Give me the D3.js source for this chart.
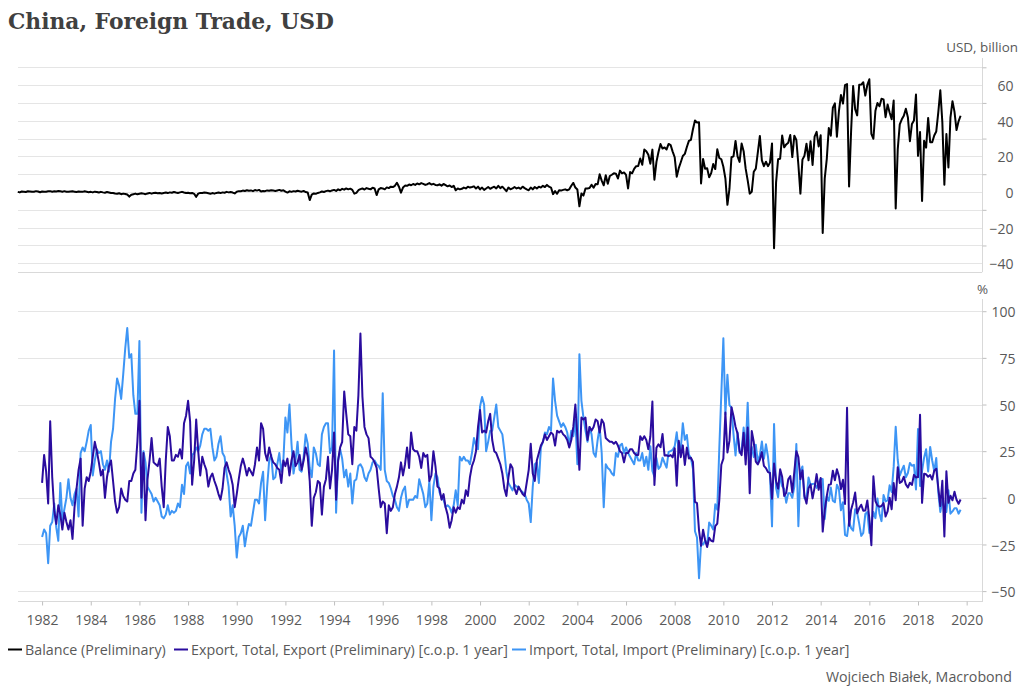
<!DOCTYPE html>
<html><head><meta charset="utf-8">
<script src="https://cdn.jsdelivr.net/npm/d3@7"></script>
<style>body{margin:0;background:#fff}svg{display:block}</style>
</head><body><svg id="c" width="1024" height="696"></svg>
<script>
// ---------------- data ----------------
const chartTitle = "China, Foreign Trade, USD";
const topUnit = "USD, billion";
const bottomUnit = "%";
const sourceText = "Wojciech Białek, Macrobond";
const seriesNames = ["Balance (Preliminary)", "Export, Total, Export (Preliminary) [c.o.p. 1 year]", "Import, Total, Import (Preliminary) [c.o.p. 1 year]"];
const seriesColors = ["#000000", "#2a0c9e", "#3d95f5"];

const balanceStartYear = 1981;   // monthly from Jan
const tradeStartYear = 1982;     // monthly from Jan

// Trade balance, USD billion, monthly Jan 1981 - Oct 2019
const balance = [
0.1,-0.2,0.3,0.2,0.0,0.4,0.3,0.1,0.2,0.5,0.3,-0.1,
0.3,0.1,0.2,0.4,0.5,0.2,0.4,0.3,0.6,0.4,0.2,0.5,
0.2,0.1,0.3,0.4,0.2,0.0,0.3,0.2,0.1,0.4,0.2,-0.1,
0.1,-0.2,0.2,0.0,-0.3,0.1,-0.2,-0.4,0.0,-0.3,-0.6,-0.5,
-0.8,-1.0,-0.7,-1.2,-0.9,-1.1,-1.4,-2.6,-1.5,-1.2,-0.9,-1.3,
-1.0,-0.7,-0.9,-1.2,-0.8,-0.5,-0.9,-0.6,-0.4,-0.7,-0.5,-0.8,
-0.5,-0.3,-0.6,-0.2,-0.4,0.0,-0.3,-0.5,-0.2,0.1,-0.3,-0.6,
-0.4,-0.7,-0.5,-1.0,-2.7,-0.9,-0.5,-0.6,-0.3,-0.4,-0.7,-1.0,
-0.6,-0.9,-0.5,-0.3,-0.6,-0.2,-0.4,0.1,-0.2,0.0,-0.3,-0.8,
0.2,0.5,0.4,0.8,0.6,1.0,0.7,0.9,0.5,1.1,0.8,1.2,
0.3,0.6,0.5,0.9,0.7,1.0,0.8,0.6,0.9,1.2,0.7,1.0,
0.2,-0.3,0.4,0.1,0.5,0.3,0.7,0.4,0.2,0.6,0.0,-0.3,
-4.5,-1.5,-0.8,-1.0,-0.5,-0.2,0.3,0.0,0.5,0.8,0.4,0.9,
1.2,0.6,1.5,1.0,1.8,1.3,2.0,1.5,1.9,1.2,-0.9,-0.5,
1.0,1.6,2.0,1.4,2.2,1.8,1.5,2.4,2.0,-1.7,1.5,2.2,
2.0,1.5,2.6,2.2,3.0,2.8,3.5,5.2,3.0,-0.4,2.5,3.6,
3.5,4.2,3.8,4.5,4.0,4.8,4.3,5.0,4.6,4.0,4.4,5.0,
4.2,4.6,4.0,3.8,4.3,3.6,4.5,3.9,3.2,3.7,2.8,3.5,
1.0,2.0,1.5,1.8,2.5,2.0,3.0,2.5,2.8,3.2,2.0,3.0,
1.5,2.5,1.2,2.0,2.8,1.8,2.5,3.0,2.0,3.5,2.2,3.0,
1.8,0.5,2.5,1.5,2.0,2.8,2.0,2.5,1.8,3.0,2.2,1.5,
1.0,2.5,1.5,2.8,2.0,3.0,2.5,3.5,2.8,4.0,3.0,2.5,
-1.2,0.5,-1.0,1.0,0.8,1.2,1.5,1.0,1.5,3.5,5.1,2.5,
1.4,-8.0,-0.8,-2.0,2.0,2.0,2.2,4.1,2.4,4.5,4.3,10.0,
6.4,3.8,9.4,4.6,9.0,9.7,10.5,10.3,7.6,12.0,10.5,11.0,
9.6,2.0,11.2,10.5,13.0,14.5,14.6,18.8,15.3,23.8,22.9,20.9,
15.9,23.8,6.9,16.9,22.5,26.9,24.4,25.0,23.9,27.0,26.3,22.7,
19.5,8.6,13.4,16.7,20.2,21.4,25.3,28.7,29.3,35.2,40.1,39.0,
39.1,4.8,18.6,13.1,13.4,8.3,10.6,15.7,12.9,24.0,19.1,18.4,
14.2,7.6,-7.2,1.7,19.5,20.0,28.7,20.0,16.9,27.2,22.9,13.1,
6.5,-0.9,0.1,11.4,13.1,22.3,31.5,17.8,14.5,17.0,14.5,16.5,
27.3,-31.5,5.4,18.4,18.7,31.7,25.1,26.7,27.7,32.0,19.6,31.6,
29.2,15.3,-0.9,18.2,20.4,27.1,17.8,28.5,15.2,31.1,33.8,25.6,
31.9,-23.0,7.7,18.5,35.9,31.6,47.3,49.8,31.0,45.4,54.5,49.6,
60.0,60.6,3.1,34.1,59.5,46.5,43.0,60.2,60.3,61.6,54.1,60.1,
63.3,32.6,29.9,45.6,50.0,48.1,52.3,52.0,42.0,49.1,44.6,40.8,
51.3,-9.2,23.9,38.0,40.8,42.8,46.7,42.0,28.5,38.2,40.2,54.7,
20.3,33.7,-5.0,28.8,24.9,41.6,28.0,27.9,31.7,34.0,44.7,57.1,
39.2,4.1,32.6,13.8,41.7,51.0,45.0,34.8,39.7,42.8
];

// Export, % change on 1 year, monthly Jan 1982 - Oct 2019
const exportGrowth = [
8,23,14,-3,41,11,-7,-14,-4,-9,-17,-8,
-13,-17,-12,-22,-5,5,15,21,-15,5,11,9,
14,22,30,25,19,12,15,0,11,17,20,9,
-2,-8,-5,5,1,-1,-2,9,9,13,15,30,
52,0,24,-12,10,20,32,19,18,17,21,6,
-5,20,38,33,20,20,23,22,26,21,40,44,
52,41,7,20,42,25,12,22,18,15,6,11,
13,9,6,2,-1,5,16,19,15,12,7,-5,
2,10,17,21,17,12,16,14,12,18,27,20,
40,37,24,20,27,22,19,18,16,15,8,20,
17,21,12,20,25,17,19,23,15,20,27,22,
9,-15,0,3,9,8,-9,6,10,22,5,15,
35,-1,20,27,30,57,45,34,33,18,38,36,
55,88,54,38,34,32,22,21,19,16,5,-5,
-2,-3,-19,-4,-7,-5,2,6,11,19,12,18,
27,16,35,26,25,25,22,16,24,22,23,9,
12,25,17,6,5,-1,2,-5,-9,-16,-12,-5,
-8,-5,-6,-1,-3,4,1,11,17,20,25,38,
47,35,36,35,41,45,31,25,24,21,18,13,
5,1,11,18,16,5,2,6,4,2,1,8,
15,29,13,9,20,24,28,30,34,31,33,35,
34,28,36,35,36,34,33,31,27,31,38,50,
33,15,43,42,43,31,38,36,38,42,41,35,
42,40,32,31,30,30,29,30,28,25,24,19,
24,24,26,26,24,23,23,33,31,33,31,26,
33,51.6,6.9,26.8,28.7,27.1,34.2,22.7,22.8,22.3,22.9,21.7,
26.6,6.5,30.6,21.8,28.1,17.6,26.9,21.1,21.5,19.2,-2.2,-2.8,
-17.5,-25.7,-17.1,-22.6,-26.4,-21.4,-23.0,-23.4,-15.2,-13.8,-1.2,17.7,
21.0,45.7,24.3,30.5,48.5,43.9,38.1,34.4,25.1,22.9,34.9,17.9,
37.7,2.4,35.8,29.9,19.4,17.9,20.4,24.5,17.1,15.9,13.8,13.4,
-0.5,18.4,8.9,4.9,15.3,11.3,1.0,2.7,9.9,11.6,2.9,14.1,
25.0,21.8,10.0,14.7,1.0,-3.1,5.1,7.2,-0.3,5.6,12.7,4.3,
10.6,-18.1,-6.6,0.9,7.0,7.2,14.5,9.4,15.3,11.6,4.7,9.7,
-3.3,48.3,-15.0,-6.4,-2.5,2.8,-8.3,-5.5,-3.7,-6.9,-6.8,-1.4,
-11.2,-25.4,11.5,-1.8,-4.1,-4.8,-4.4,-2.8,-10.0,-7.3,0.1,-6.1,
7.9,-1.3,16.4,8.0,8.7,11.3,7.2,5.5,8.1,6.9,12.3,10.9,
11.1,44.5,-2.7,12.9,12.6,11.3,12.2,9.8,14.5,15.6,5.4,-4.4,
9.1,-20.7,14.2,-2.7,1.1,-1.3,3.3,-1.0,-3.2,-0.9
];

// Import, % change on 1 year, monthly Jan 1982 - Oct 2019
const importGrowth = [
-21,-17,-19,-35,-15,-13,-3,-16,-23,8,-12,-6,
0,10,0,-4,2,5,-10,24,27,25,30,36,
39,12,20,26,24,25,18,15,20,14,30,37,
53,64,60,53,66,80,91,75,77,55,45,45,
84,-8,25,19,6,4,2,-2,0,-2,-4,-10,
-11,-9,-4,-9,-7,-8,-7,-3,-5,7,2,17,
19,13,23,24,27,25,28,34,37,37,36,37,
27,20,22,29,33,24,22,13,6,-10,-4,-15,
-32,-21,-19,-15,-26,-19,-14,-15,-8,-1,-1,-3,
8,14,-12,6,20,23,10,11,18,24,14,20,
43,35,50,29,13,20,30,15,14,22,34,29,
16,11,27,24,18,17,34,38,40,40,24,27,
79,-8,20,26,21,11,15,6,13,-3,9,10,
17,18,16,11,9,13,15,19,20,18,17,15,
56,15,9,8,5,1,-1,-5,-7,0,4,6,
-5,-1,-1,-1,1,0,10,6,2,-5,-3,9,
-12,6,13,11,3,0,-1,-5,-4,-5,-8,-4,
4,-4,22,20,22,20,20,18,24,32,28,26,
49,54,50,25,30,36,36,43,50,38,36,34,
25,14,8,6,4,7,6,6,4,3,2,-1,
-3,-13,6,18,19,8,27,30,35,34,38,36,
64,52,44,41,38,40,38,35,28,36,33,42,
18,77,52,43,36,30,38,34,24,22,31,38,
24,-5,18,16,15,13,12,24,22,28,29,24,
27,24,22,20,18,24,20,20,24,17,22,15,
27.6,14.4,11.3,21.3,15.5,16.9,21.5,18.7,16.2,24.6,25.0,25.7,
27.6,35.1,24.6,26.3,40.0,31.1,33.7,23.1,21.3,15.6,-17.9,-21.3,
-43.1,-24.1,-25.1,-23.0,-25.2,-13.2,-14.9,-17.0,-3.5,-6.4,26.7,55.9,
85.5,44.7,66.0,49.7,48.3,34.1,22.7,35.2,24.1,25.3,37.7,25.6,
51.0,19.4,27.3,21.8,28.4,19.3,22.9,30.2,20.9,28.7,22.1,11.8,
-15.3,39.6,5.3,0.3,12.7,6.3,4.7,-2.6,2.4,2.4,0.0,6.0,
28.8,-15.2,14.1,16.8,-0.3,-0.7,10.9,7.0,7.4,7.6,5.3,8.3,
10.0,10.1,-11.3,0.8,-1.6,5.5,-1.6,-2.4,7.0,4.6,-6.7,-2.4,
-19.9,-20.5,-12.7,-16.2,-17.6,-6.1,-8.1,-13.8,-20.4,-18.8,-8.7,-7.6,
-18.8,-13.8,-7.6,-10.9,-0.4,-8.4,-12.5,1.5,-1.9,-1.4,6.7,3.1,
16.7,38.1,20.3,11.9,14.8,17.2,11.0,13.3,18.7,17.2,17.7,4.5,
36.9,6.3,14.4,21.5,26.0,14.1,27.3,20.0,14.3,21.4,3.0,-7.6,
-1.5,-5.2,-7.6,4.0,-8.5,-7.3,-5.6,-5.6,-8.5,-6.4
];

const xTickYears = [1982,1984,1986,1988,1990,1992,1994,1996,1998,2000,2002,2004,2006,2008,2010,2012,2014,2016,2018,2020];
const topTickValues = [60,40,20,0,-20,-40];
const topMinorTicks = [70,50,30,10,-10,-30];
const topGridValues = [70,60,50,40,30,20,10,0,-10,-20,-30,-40];
const bottomTickValues = [100,75,50,25,0,-25,-50];

// ---------------- drawing ----------------
const svg = d3.select("#c");
const FONT = "'Open Sans', 'Noto Sans', sans-serif";
const TXT = "#595959";
const GRID = "#e5e5e5";
const AXIS = "#d9d9d9";

const toPoints = (arr, startYear) => arr.map((v, i) => ({t: startYear + i / 12, v}));

const x = d3.scaleLinear().domain([1981.01, 2020.63]).range([18, 982]);
const yTop = d3.scaleLinear().domain([-45, 70]).range([272.2, 67.3]);
const yBot = d3.scaleLinear().domain([-55.4, 106.6]).range([601.2, 298.9]);

// title
svg.append("text").attr("x", 8).attr("y", 29)
  .attr("font-family", "'DejaVu Serif', serif").attr("font-weight", "bold")
  .attr("font-size", 21.8).attr("fill", "#404040").text(chartTitle);

// gridlines
svg.append("g").selectAll("line").data(topGridValues).join("line")
  .attr("x1", 18).attr("x2", 982)
  .attr("y1", d => Math.round(yTop(d)) + 0.5).attr("y2", d => Math.round(yTop(d)) + 0.5)
  .attr("stroke", GRID).attr("stroke-width", 1);
svg.append("line").attr("x1", 18).attr("x2", 982)
  .attr("y1", Math.round(yTop(-45)) + 0.5).attr("y2", Math.round(yTop(-45)) + 0.5)
  .attr("stroke", AXIS);
svg.append("g").selectAll("line").data(bottomTickValues).join("line")
  .attr("x1", 18).attr("x2", 982)
  .attr("y1", d => Math.round(yBot(d)) + 0.5).attr("y2", d => Math.round(yBot(d)) + 0.5)
  .attr("stroke", GRID).attr("stroke-width", 1);

// right axes
function styleAxis(g) {
  g.select(".domain").remove();
  g.selectAll(".tick line").attr("stroke", "#bfbfbf");
  g.selectAll(".tick text").attr("fill", TXT).attr("font-family", FONT).attr("font-size", 14);
}
svg.append("line").attr("x1", 982.5).attr("x2", 982.5).attr("y1", 58).attr("y2", yTop(-45))
  .attr("stroke", AXIS);
svg.append("line").attr("x1", 982.5).attr("x2", 982.5).attr("y1", 299).attr("y2", 602)
  .attr("stroke", AXIS);

svg.append("g").attr("transform", "translate(982.5,0)")
  .call(d3.axisRight(yTop).tickValues(topMinorTicks).tickSize(4).tickFormat(""))
  .call(styleAxis);
svg.append("g").attr("transform", "translate(982.5,0)")
  .call(d3.axisRight(yTop).tickValues(topTickValues).tickSize(0).tickFormat(d3.format("d")))
  .call(styleAxis)
  .call(g => g.selectAll(".tick text").attr("text-anchor", "end").attr("x", 31).attr("dy", "0.4em"));
svg.append("g").attr("transform", "translate(982.5,0)")
  .call(d3.axisRight(yBot).tickValues(bottomTickValues).tickSize(4).tickFormat(d3.format("d")))
  .call(styleAxis)
  .call(g => g.selectAll(".tick text").attr("text-anchor", "end").attr("x", 33).attr("dy", "0.4em"));

// unit labels
svg.append("text").attr("x", 1018).attr("y", 52).attr("text-anchor", "end")
  .attr("font-family", FONT).attr("font-size", 13.4).attr("fill", TXT).text(topUnit);
svg.append("text").attr("x", 988).attr("y", 294).attr("text-anchor", "end")
  .attr("font-family", FONT).attr("font-size", 13.4).attr("fill", TXT).text(bottomUnit);

// x axis
svg.append("g").attr("transform", "translate(0,601.5)")
  .call(d3.axisBottom(x).tickValues(xTickYears).tickSize(4).tickFormat(d3.format("d")))
  .call(g => g.select(".domain").attr("stroke", AXIS).attr("d", "M18,0H982"))
  .call(g => g.selectAll(".tick line").attr("stroke", "#bfbfbf"))
  .call(g => g.selectAll(".tick text").attr("fill", TXT).attr("font-family", FONT)
      .attr("font-size", 14).attr("y", 13.5));

// lines
const lineTop = d3.line().x(d => x(d.t)).y(d => yTop(d.v));
const lineBot = d3.line().x(d => x(d.t)).y(d => yBot(d.v));

svg.append("path").datum(toPoints(balance, balanceStartYear)).attr("d", lineTop)
  .attr("fill", "none").attr("stroke", seriesColors[0]).attr("stroke-width", 2).attr("stroke-linejoin", "round");
svg.append("path").datum(toPoints(importGrowth, tradeStartYear)).attr("d", lineBot)
  .attr("fill", "none").attr("stroke", seriesColors[2]).attr("stroke-width", 2).attr("stroke-linejoin", "round");
svg.append("path").datum(toPoints(exportGrowth, tradeStartYear)).attr("d", lineBot)
  .attr("fill", "none").attr("stroke", seriesColors[1]).attr("stroke-width", 2).attr("stroke-linejoin", "round");

// legend
const legendX = [8, 174, 512];
const lg = svg.append("g");
seriesNames.forEach((name, i) => {
  lg.append("line").attr("x1", legendX[i]).attr("x2", legendX[i] + 14)
    .attr("y1", 649.5).attr("y2", 649.5).attr("stroke", seriesColors[i]).attr("stroke-width", 2);
  lg.append("text").attr("x", legendX[i] + 17).attr("y", 654.5)
    .attr("font-family", FONT).attr("font-size", 14.3).attr("fill", TXT).text(name);
});

// source
svg.append("text").attr("x", 1012).attr("y", 681.5).attr("text-anchor", "end")
  .attr("font-family", FONT).attr("font-size", 14.2).attr("fill", TXT).text(sourceText);
</script>
</body></html>
